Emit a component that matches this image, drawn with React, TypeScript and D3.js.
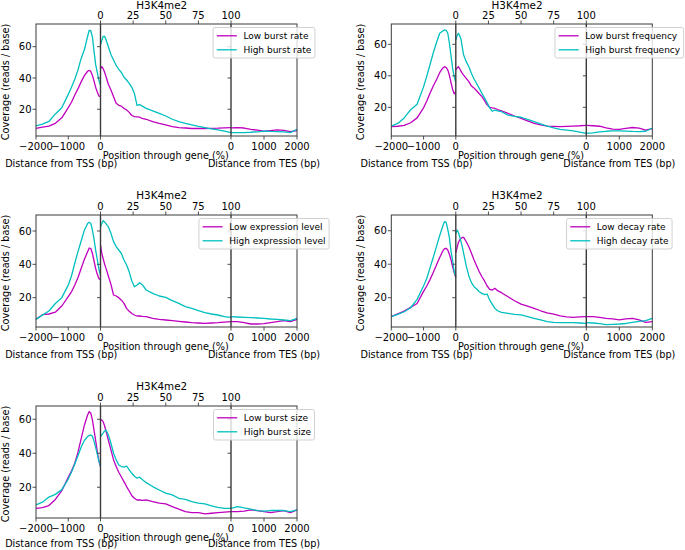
import React from 'react';
import * as d3 from 'd3';

// ---------- shared x grids & ticks ----------
const upstreamBp = [-2000, -1800, -1600, -1400, -1200, -1000, -900, -800, -700, -600, -500, -400, -350, -300, -250, -200, -150, -100, -50, 0];
const genePct = [0, 1, 2, 3, 4, 5, 6, 8, 10, 12, 14, 16, 18, 20, 22, 24, 26, 28, 30, 32, 35, 40, 45, 50, 55, 60, 65, 70, 75, 80, 85, 90, 95, 100];
const downstreamBp = [0, 200, 400, 600, 800, 1000, 1200, 1400, 1600, 1800, 2000];
const yTickValues = [20, 40, 60];
const geneTicks = [0, 25, 50, 75, 100];
const upTicks = [-2000, -1000, 0];
const downTicks = [0, 1000, 2000];

// ---------- panel 1: burst rate ----------
const rateLowUp = [7.8, 8.6, 9.2, 11, 14.5, 21, 24.5, 29, 33, 37.5, 41.5, 44.3, 44.8, 44.2, 41.5, 38, 34, 31, 28.5, 28];
const rateHighUp = [9.4, 10.5, 12.2, 17, 21, 29.5, 34, 39, 45, 52.5, 58, 66.5, 70.5, 70.2, 66, 57, 48.5, 43.5, 38.5, 35.5];
const rateLowGene = [46, 47.2, 46, 44, 41.5, 38.7, 36, 32.3, 28, 23.8, 22.5, 22, 20.5, 19.6, 18, 16, 15.3, 15.1, 14.9, 14.2, 13.6, 12.1, 11, 10, 8.9, 8.3, 8, 7.7, 7.8, 7.7, 7.8, 7.9, 8.1, 8.3];
const rateHighGene = [61, 64, 66.5, 66.8, 65, 62.5, 60, 55, 51.5, 48, 45.5, 43.5, 40.5, 38.7, 36.5, 34, 30, 22.5, 23, 22, 20.6, 19, 17.4, 15.7, 13.6, 12.1, 11, 10, 9, 8.3, 7.5, 6.8, 6, 5.1];
const rateLowDown = [8.1, 8.2, 8.0, 7.2, 6.6, 6.0, 6.4, 6.8, 6.5, 5.7, 6.4];
const rateHighDown = [5.1, 5.0, 5.1, 5.3, 5.6, 6.0, 5.8, 5.7, 5.5, 5.1, 7.2];

// ---------- panel 2: burst frequency ----------
const freqLowUp = [7.7, 8.0, 8.5, 10.2, 13.3, 19.7, 24, 29, 33.5, 37.5, 42, 45, 45.8, 45.3, 43.8, 40.5, 35.8, 31.5, 28.6, 30];
const freqHighUp = [8.1, 9.8, 13.3, 18.5, 22, 33, 39.8, 47, 54.5, 61, 67, 68.5, 69.1, 68.8, 67.2, 61, 53, 45, 39.5, 35.7];
const freqLowGene = [43.7, 45, 45.8, 44.5, 43, 41.6, 40.5, 38.4, 36.3, 33.5, 32.2, 30.5, 28.6, 26.8, 24.3, 21.6, 20, 19.6, 19.4, 18.6, 17.7, 16.2, 14.5, 13, 11.4, 9.8, 8.9, 8.1, 7.9, 7.7, 7.9, 8.1, 8.3, 8.6];
const freqHighGene = [62.8, 65.5, 67, 65.5, 63.2, 58, 53.2, 49, 45.8, 41.5, 38, 35, 32, 28.9, 26, 23, 19.5, 17.5, 18.3, 17.8, 17.2, 15.1, 14.3, 13.7, 12.3, 10.9, 9.5, 8.1, 7, 6, 5.5, 5, 4.3, 3.5];
const freqLowDown = [8.6, 8.3, 8.0, 7.0, 6.2, 6.0, 6.6, 7.2, 6.8, 5.6, 6.5];
const freqHighDown = [3.5, 3.8, 4.4, 4.8, 5.0, 5.0, 4.9, 4.7, 4.6, 4.8, 6.7];

// ---------- panel 3: expression level ----------
const exprLowUp = [7, 9.8, 10.2, 11.3, 15, 20.6, 23.5, 27.5, 32, 37.5, 43, 47.5, 49.8, 49.5, 46.5, 42, 37.5, 34, 31.5, 30.6];
const exprHighUp = [7, 9.5, 12, 16.5, 20, 27.5, 33, 40.5, 47.5, 54, 60.5, 64.5, 65.2, 64.5, 60.5, 55, 48.5, 43, 37, 33.6];
const exprLowGene = [51.6, 46.6, 43.5, 40.6, 38, 35.6, 33, 28, 21.6, 21, 20, 18.5, 16.6, 13.6, 11.8, 10.5, 9.6, 9, 9, 8.8, 8.6, 7.6, 7, 6.6, 6.2, 5.8, 5.4, 5, 4.8, 4.6, 4.8, 5, 5.3, 5.6];
const exprHighGene = [62.6, 64.5, 66.2, 65.5, 64.6, 63.5, 62.6, 58.6, 53.6, 50.6, 48.6, 46.5, 42.6, 39.6, 35.5, 30, 26.5, 27.6, 29, 27.8, 24.6, 22.6, 21, 20.2, 18.2, 16.6, 14.6, 13.6, 12.2, 11, 10.2, 9.6, 8.6, 8.2];
const exprLowDown = [5.6, 5.6, 5.0, 4.2, 4.2, 4.4, 5.0, 5.6, 6.2, 5.6, 7.0];
const exprHighDown = [8.6, 8.4, 8.2, 8.0, 7.8, 7.6, 7.2, 7.0, 6.6, 6.2, 7.6];

// ---------- panel 4: decay rate ----------
const decayLowUp = [8.7, 10.3, 12, 14.2, 16.5, 23.8, 27, 30.8, 35, 39.5, 44, 48, 49.3, 49.5, 48.5, 46, 42.8, 38.5, 35, 32.1];
const decayHighUp = [8.7, 10, 11.6, 14, 19, 27, 31.5, 37.8, 44, 50.5, 57, 63, 65.4, 65.2, 61, 56, 48, 42.5, 35.5, 32.5];
const decayLowGene = [47, 50, 53, 54.5, 55.4, 56, 56, 53.4, 50.4, 46.5, 42.5, 39, 35.5, 32.5, 30, 27, 25, 24.6, 25.6, 24.2, 23, 20.6, 18.2, 16.2, 15, 13.6, 12.2, 11, 10.2, 9.1, 8.6, 8.3, 8.5, 8.7];
const decayHighGene = [58.4, 60.4, 59, 56.4, 53.5, 50.4, 46.5, 39, 33, 29, 26.6, 25.2, 23.6, 22.6, 21.8, 22.2, 18.5, 16, 13.6, 12.2, 11.2, 10.6, 10, 9.7, 8.7, 7.7, 6.7, 5.7, 5.3, 5.1, 5.1, 5.1, 4.9, 4.7];
const decayLowDown = [8.7, 8.7, 8.2, 7.7, 7.3, 6.8, 7.4, 7.6, 6.7, 5.3, 5.7];
const decayHighDown = [5.1, 4.9, 4.5, 3.9, 4.1, 4.3, 4.6, 5.3, 5.9, 6.3, 7.7];

// ---------- panel 5: burst size ----------
const sizeLowUp = [7.6, 8, 9.2, 12.8, 18, 25.8, 29.5, 34, 40.5, 48.5, 56.5, 62.5, 64.5, 63.5, 59.5, 53.5, 47.5, 41, 35.5, 32.2];
const sizeHighUp = [9.6, 11.2, 14.2, 15.8, 18.6, 24.8, 28.8, 33.5, 38.5, 43.5, 47.5, 49.8, 50.4, 50.8, 50, 47, 43.5, 39.5, 35.5, 32.5];
const sizeLowGene = [60, 59.5, 58.6, 56.5, 53.7, 50.8, 47.8, 42, 36.1, 32.2, 28.8, 26, 23.3, 20.4, 17.8, 15, 13.5, 12.5, 12.5, 12.3, 12.5, 11.6, 10.6, 10.2, 8.6, 7.1, 5.7, 5.1, 5.1, 4.3, 4.7, 5.1, 5.4, 5.7];
const sizeHighGene = [49.8, 50.8, 51.8, 53, 53.7, 52.5, 50.8, 45.9, 40, 36.1, 33.1, 32.2, 31.8, 32.5, 30.2, 28.2, 26.5, 25.3, 25.9, 24.5, 22.7, 20.4, 18.4, 16.5, 15.5, 13.5, 12.9, 11.6, 10.6, 10.2, 9, 8.2, 7.6, 7.6];
const sizeLowDown = [5.7, 5.7, 6.0, 6.7, 6.2, 5.7, 5.1, 5.6, 6.3, 5.1, 6.7];
const sizeHighDown = [7.6, 8.6, 7.8, 7.1, 6.2, 5.9, 6.3, 6.3, 6.3, 5.7, 6.7];

// ---------- labels ----------
const titleText = 'H3K4me2';
const lowLabels = ['Low burst rate', 'Low burst frequency', 'Low expression level', 'Low decay rate', 'Low burst size'];
const highLabels = ['High burst rate', 'High burst frequency', 'High expression level', 'High decay rate', 'High burst size'];
const yDomains = [[2.9, 74.5], [1.8, 72.9], [2.4, 69.6], [2.5, 69.4], [1.9, 67.8]];

const LOW_COLOR = '#bf00bf';
const HIGH_COLOR = '#00bfbf';
const FONT = "'DejaVu Sans', sans-serif";

const panelData = [
  { low: [rateLowUp, rateLowGene, rateLowDown], high: [rateHighUp, rateHighGene, rateHighDown] },
  { low: [freqLowUp, freqLowGene, freqLowDown], high: [freqHighUp, freqHighGene, freqHighDown] },
  { low: [exprLowUp, exprLowGene, exprLowDown], high: [exprHighUp, exprHighGene, exprHighDown] },
  { low: [decayLowUp, decayLowGene, decayLowDown], high: [decayHighUp, decayHighGene, decayHighDown] },
  { low: [sizeLowUp, sizeLowGene, sizeLowDown], high: [sizeHighUp, sizeHighGene, sizeHighDown] },
];

// layout
const COL_LEFT = [36, 391.3];
const ROW_TOP = [24, 215, 406];
const PLOT_W = 261;
const PLOT_H = 112;
const UP_W = 64.5;
const GENE_W = 130.5;

function measure(text: string, size: number): number {
  try {
    const c = document.createElement('canvas');
    const ctx = c.getContext('2d');
    if (ctx) {
      ctx.font = `${size}px 'DejaVu Sans'`;
      return ctx.measureText(text).width;
    }
  } catch (e) {}
  return text.length * size * 0.58;
}

const fmt = (n: number) => (n < 0 ? '\u2212' + Math.abs(n) : String(n));

function Panel({ idx }: { idx: number }) {
  const col = idx % 2;
  const row = Math.floor(idx / 2);
  const L = COL_LEFT[col];
  const T = ROW_TOP[row];
  const B = T + PLOT_H;
  const R = L + PLOT_W;
  const tss = L + UP_W;
  const tes = tss + GENE_W;

  const xUp = d3.scaleLinear().domain([-2000, 0]).range([L, tss]);
  const xGene = d3.scaleLinear().domain([0, 100]).range([tss, tes]);
  const xDown = d3.scaleLinear().domain([0, 2000]).range([tes, R]);
  const y = d3.scaleLinear().domain(yDomains[idx]).range([B, T]);

  const grids = [upstreamBp, genePct, downstreamBp];
  const scales = [xUp, xGene, xDown];
  const mkPath = (vals: number[], s: number) =>
    d3.line<number>().x((_, i) => scales[s](grids[s][i])).y((d) => y(d))(vals) || '';

  const data = panelData[idx];
  const spine = '#3a3a3a';

  // legend
  const lw = Math.max(measure(lowLabels[idx], 9), measure(highLabels[idx], 9));
  const legW = 3.7 + 20 + 6.6 + lw + 3.5;
  const downCenter = (tes + R) / 2;
  const legX = downCenter - legW / 2;
  const legY = T + 3.5;

  const titleY = Math.max(T - 16, 9);
  const topTickY = row === 0 ? T - 4.8 : T - 5.3;
  const distY = Math.min(B + 30.5, 546.5);

  return (
    <g fontFamily={FONT}>
      {/* data */}
      {[0, 1, 2].map((s) => (
        <path key={'l' + s} d={mkPath(data.low[s], s)} fill="none" stroke={LOW_COLOR} strokeWidth={1.3} strokeLinejoin="round" />
      ))}
      {[0, 1, 2].map((s) => (
        <path key={'h' + s} d={mkPath(data.high[s], s)} fill="none" stroke={HIGH_COLOR} strokeWidth={1.3} strokeLinejoin="round" />
      ))}
      {/* frame */}
      <rect x={L} y={T} width={PLOT_W} height={PLOT_H} fill="none" stroke={spine} strokeWidth={1} />
      <line x1={tss} x2={tss} y1={T} y2={B} stroke={spine} strokeWidth={1.4} />
      <line x1={tes} x2={tes} y1={T} y2={B} stroke={spine} strokeWidth={1.4} />
      {/* y ticks */}
      {yTickValues.map((v) => (
        <g key={'y' + v}>
          <line x1={L - 3.5} x2={L} y1={y(v)} y2={y(v)} stroke={spine} strokeWidth={0.9} />
          <line x1={tss - 3.5} x2={tss} y1={y(v)} y2={y(v)} stroke={spine} strokeWidth={0.9} />
          <line x1={tes - 3.5} x2={tes} y1={y(v)} y2={y(v)} stroke={spine} strokeWidth={0.9} />
          <text x={L - 4.5} y={y(v) + 3.6} fontSize={10} textAnchor="end" fill="#000">{fmt(v)}</text>
        </g>
      ))}
      {/* top gene ticks */}
      {geneTicks.map((v) => (
        <g key={'g' + v}>
          <line x1={xGene(v)} x2={xGene(v)} y1={T - 3.5} y2={T} stroke={spine} strokeWidth={0.9} />
          <text x={xGene(v)} y={topTickY} fontSize={10} textAnchor="middle" fill="#000">{fmt(v)}</text>
        </g>
      ))}
      {/* bottom ticks */}
      {upTicks.map((v) => (
        <g key={'u' + v}>
          <line x1={xUp(v)} x2={xUp(v)} y1={B} y2={B + 3.5} stroke={spine} strokeWidth={0.9} />
          <text x={xUp(v)} y={B + 14.3} fontSize={10} textAnchor="middle" fill="#000">{fmt(v)}</text>
        </g>
      ))}
      {downTicks.map((v) => (
        <g key={'d' + v}>
          <line x1={xDown(v)} x2={xDown(v)} y1={B} y2={B + 3.5} stroke={spine} strokeWidth={0.9} />
          <text x={xDown(v)} y={B + 14.3} fontSize={10} textAnchor="middle" fill="#000">{fmt(v)}</text>
        </g>
      ))}
      {/* labels */}
      <text x={(tss + tes) / 2 - 4} y={titleY} fontSize={10.4} textAnchor="middle" fill="#000">{titleText}</text>
      <text x={(tss + tes) / 2} y={B + 22.5} fontSize={9.7} textAnchor="middle" fill="#000">Position through gene (%)</text>
      <text x={(L + tss) / 2 - 7} y={distY} fontSize={9.7} textAnchor="middle" fill="#000">Distance from TSS (bp)</text>
      <text x={(tes + R) / 2} y={distY} fontSize={9.7} textAnchor="middle" fill="#000">Distance from TES (bp)</text>
      <text
        transform={`translate(${L - 27.5},${T + PLOT_H / 2 + 2}) rotate(-90)`}
        fontSize={9.7}
        textAnchor="middle"
        fill="#000"
      >
        Coverage (reads / base)
      </text>
      {/* legend */}
      <rect x={legX} y={legY} width={legW} height={30.5} rx={2} fill="#ffffff" fillOpacity={0.8} stroke="#cccccc" strokeWidth={0.9} />
      <line x1={legX + 3.7} x2={legX + 23.7} y1={legY + 8.3} y2={legY + 8.3} stroke={LOW_COLOR} strokeWidth={1.3} />
      <text x={legX + 30.3} y={legY + 8.3 + 3.2} fontSize={9} fill="#000">{lowLabels[idx]}</text>
      <line x1={legX + 3.7} x2={legX + 23.7} y1={legY + 22.3} y2={legY + 22.3} stroke={HIGH_COLOR} strokeWidth={1.3} />
      <text x={legX + 30.3} y={legY + 22.3 + 3.2} fontSize={9} fill="#000">{highLabels[idx]}</text>
    </g>
  );
}

export default function App() {
  return (
    <svg
      width={685}
      height={550}
      viewBox="0 0 685 550"
      style={{ position: 'absolute', left: 0, top: 0, background: '#fff' }}
    >
      <rect x={0} y={0} width={685} height={550} fill="#fff" />
      {[0, 1, 2, 3, 4].map((i) => (
        <Panel key={i} idx={i} />
      ))}
    </svg>
  );
}
